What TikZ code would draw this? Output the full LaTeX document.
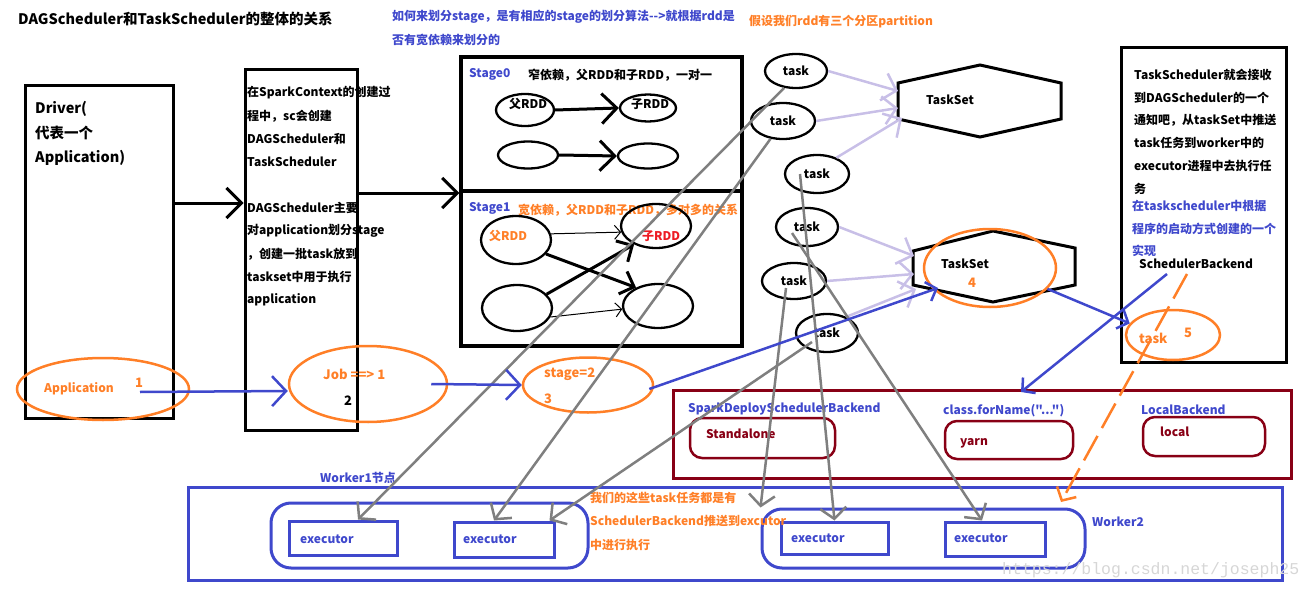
\documentclass[tikz,border=0pt]{standalone}
\usepackage{fontspec}
\setmainfont{Noto Sans CJK SC}
\newfontfamily\qfont{Noto Sans CJK SC}
\newfontfamily\wmfont{Liberation Mono}
\usetikzlibrary{shapes.geometric,arrows.meta}
\definecolor{porange}{HTML}{FF7F27}
\definecolor{pblue}{HTML}{3F48CC}
\definecolor{pred}{HTML}{880015}
\definecolor{plav}{HTML}{C8BFE7}
\definecolor{pgray}{HTML}{7F7F7F}
\definecolor{pbright}{HTML}{ED1C24}
\tikzset{
  T/.style={anchor=west, inner sep=0pt, font=\bfseries\fontsize{12}{14}\selectfont},
  TL/.style={anchor=west, inner sep=0pt, font=\bfseries\fontsize{14.5}{16}\selectfont},
  TC/.style={inner sep=0pt, font=\bfseries\fontsize{12}{14}\selectfont},
  box/.style={draw, line width=3pt, inner sep=0pt},
  ell/.style={draw, ellipse, line width=2.3pt, inner sep=0pt, font=\bfseries\fontsize{12}{14}\selectfont},
  oell/.style={draw=porange, ellipse, line width=2.5pt, inner sep=0pt},
  rbox/.style={draw=pred, line width=2.5pt, rounded corners=12pt, inner sep=0pt},
  bbox/.style={draw=pblue, line width=3pt, inner sep=0pt},
  karr/.style={line width=3pt, -{Straight Barb[length=15pt,width=30pt]}},
  barr/.style={draw=pblue, line width=2.5pt, -{Straight Barb[length=14pt,width=30pt]}},
  sbarr/.style={draw=pblue, line width=2.5pt, -{Straight Barb[length=9pt,width=20pt]}},
  larr/.style={draw=plav, line width=2.5pt, -{Straight Barb[length=13pt,width=28pt]}},
  garr/.style={draw=pgray, line width=2.5pt, -{Straight Barb[length=11pt,width=26pt]}},
}
\begin{document}
\begin{tikzpicture}[x=1pt,y=-1pt]
\useasboundingbox (0,0) rectangle (1312,591);

% ---------- header texts
\node[TL] (title) at (18,19) {DAGScheduler和TaskScheduler的整体的关系};
\node[T, text=pblue] (h1) at (392,17) {如何来划分stage，是有相应的stage的划分算法-{}->就根据rdd是};
\node[T, text=pblue] (h2) at (392,40) {否有宽依赖来划分的};
\node[T, text=porange] (h3) at (749,22) {假设我们rdd有三个分区partition};

% ---------- Driver
\node[box, minimum width=148pt, minimum height=332pt] (driver) at (99,252) {};
\node[TL] (d1) at (35,109) {Driver(};
\node[TL] (d2) at (35,133) {代表一个};
\node[TL] (d3) at (35,158) {Application)};
\node[oell, minimum width=172pt, minimum height=62pt] (app) at (103,389) {};
\node[T, text=porange] (apptext) at (44,389) {Application};
\node[T, text=porange, font=\bfseries\fontsize{13}{14}\selectfont] (appone) at (135,383) {1};

% ---------- SparkContext
\node[box, minimum width=112pt, minimum height=360pt] (sc) at (301,250) {};
\node[T] (s1) at (247,93) {在SparkContext的创建过};
\node[T] (s2) at (247,116) {程中，sc会创建};
\node[T] (s3) at (247,139) {DAGScheduler和};
\node[T] (s4) at (247,162) {TaskScheduler};
\node[T] (s5) at (247,208) {DAGScheduler主要};
\node[T] (s6) at (247,231) {对application划分stage};
\node[T] (s7) at (247,254) {，创建一批task放到};
\node[T] (s8) at (247,277) {taskset中用于执行};
\node[T] (s9) at (247,300) {application};

\node[oell, minimum width=158pt, minimum height=76pt] (job) at (368,384) {};
\node[T, text=porange, font=\bfseries\fontsize{13}{14}\selectfont] (jobtext) at (323,374) {Job ==> 1};
\node[T, font=\bfseries\fontsize{13}{14}\selectfont] (jobtwo) at (344,401) {2};

\node[oell, minimum width=130pt, minimum height=55pt] (stg) at (588,385) {};
\node[T, text=porange, font=\bfseries\fontsize{13}{14}\selectfont] (stgtext) at (544,374) {stage=2};
\node[T, text=porange, font=\bfseries\fontsize{13}{14}\selectfont] (stgthree) at (544,399) {3};

% ---------- Stage box
\node[draw, line width=3.5pt, inner sep=0pt, minimum width=281pt, minimum height=289pt] (stagebox) at (601.5,201.5) {};
\coordinate (dl) at (461,191);
\coordinate (dr) at (742,191);
\draw[line width=3.5pt] (dl) -- (dr);
\node[T, text=pblue] (st0) at (469,74) {Stage0};
\node[T] (st0t) at (528,75) {窄依赖，父RDD和子RDD，一对一};
\node[ell, minimum width=58pt, minimum height=32pt] (p0a) at (525,110) {};
\node[TC] (p0at) at (528,104) {父RDD};
\node[ell, minimum width=56pt, minimum height=27pt] (c0a) at (648,108) {};
\node[TC] (c0at) at (650,104) {子RDD};
\node[ell, minimum width=60pt, minimum height=27pt] (p0b) at (528,155) {};
\node[ell, minimum width=60pt, minimum height=25pt] (c0b) at (648,156) {};
\draw[karr] (p0a.east) -- (c0a.west);
\draw[karr] (p0b.east) -- (c0b.west);

\node[T, text=pblue] (st1) at (469,208) {Stage1};
\node[T, text=porange] (st1t) at (518,210) {宽依赖，父RDD和子RDD，多对多的关系};
\node[ell, minimum width=70pt, minimum height=48pt] (p1a) at (516,240) {};
\node[TC, text=porange] (p1at) at (508,236) {父RDD};
\node[ell, minimum width=70pt, minimum height=44pt] (c1a) at (656,226) {};
\node[TC, text=pbright] (c1at) at (661,236) {子RDD};
\node[ell, minimum width=70pt, minimum height=46pt] (p1b) at (517,308) {};
\node[ell, minimum width=70pt, minimum height=44pt] (c1b) at (658,306) {};
\draw[line width=1pt, -{Straight Barb[length=6pt,width=14pt]}] (p1a.10) -- (c1a.190);
\draw[line width=3pt, -{Straight Barb[length=12pt,width=24pt]}] (p1a.-25) -- (c1b.140);
\draw[line width=3pt, -{Straight Barb[length=12pt,width=24pt]}] (p1b.25) -- (c1a.-140);
\draw[line width=1pt, -{Straight Barb[length=6pt,width=14pt]}] (p1b.-15) -- (c1b.185);

% ---------- black arrows
\draw[karr] ([yshift=49pt]driver.east) -- ([yshift=47pt]sc.west);
\draw[karr] ([yshift=57pt]sc.east) -- ([yshift=8.5pt]stagebox.west);

% ---------- tasks
\node[ell, minimum width=62pt, minimum height=34pt] (t1) at (796,71) {task};
\node[ell, minimum width=64pt, minimum height=36pt] (t2) at (783,121) {task};
\node[ell, minimum width=64pt, minimum height=38pt] (t3) at (817,174) {task};
\node[ell, minimum width=62pt, minimum height=38pt] (t4) at (807,227) {task};
\node[ell, minimum width=64pt, minimum height=36pt] (t5) at (794,281) {task};
\node[ell, minimum width=62pt, minimum height=38pt] (t6) at (827,333) {task};

% ---------- TaskSets
\draw[line width=3pt, line join=miter] (898,83) -- (980,65) -- (1061,83) -- (1061,119) -- (980,137) -- (898,119) -- cycle;
\node[TC] (ts1) at (950,100) {TaskSet};
\draw[line width=3pt, line join=miter] (913,251) -- (993,231) -- (1075,248) -- (1075,285) -- (993,302) -- (913,285) -- cycle;
\node[TC] (ts2) at (965,264) {TaskSet};
\node[oell, minimum width=132pt, minimum height=78pt] (o4) at (990,268) {};
\node[TC, text=porange, font=\bfseries\fontsize{13}{14}\selectfont] (four) at (972,283) {4};

\coordinate (a1) at (898,91);
\coordinate (a2) at (898,108);
\coordinate (a3) at (902,118);
\coordinate (b1) at (914,256);
\coordinate (b2) at (914,274);
\coordinate (b3) at (916,289);
\draw[larr] (t1.east) -- (a1);
\draw[larr] (t2.east) -- (a2);
\draw[larr] (t3.40) -- (a3);
\draw[larr] (t4.east) -- (b1);
\draw[larr] (t5.east) -- (b2);
\draw[larr] (t6.40) -- (b3);

% ---------- TaskScheduler box
\node[box, minimum width=165pt, minimum height=314pt] (tsbox) at (1203.5,205) {};
\node[T] (r1) at (1134,75) {TaskScheduler就会接收};
\node[T] (r2) at (1134,98) {到DAGScheduler的一个};
\node[T] (r3) at (1134,120) {通知吧，从taskSet中推送};
\node[T] (r4) at (1134,143) {task任务到worker中的};
\node[T] (r5) at (1134,166) {executor进程中去执行任};
\node[T] (r6) at (1134,189) {务};
\node[T, text=pblue] (r7) at (1132,206) {在taskscheduler中根据};
\node[T, text=pblue] (r8) at (1132,229) {程序的启动方式创建的一个};
\node[T, text=pblue] (r9) at (1132,251) {实现};
\node[T] (sbe) at (1139,264) {SchedulerBackend};
\node[oell, minimum width=94pt, minimum height=50pt] (t5o) at (1173,335) {};
\node[T, text=porange, font=\bfseries\fontsize{13}{14}\selectfont] (t5ot) at (1139,338) {task};
\node[T, text=porange, font=\bfseries\fontsize{13}{14}\selectfont] (five) at (1184,333) {5};

% ---------- Backend box
\node[draw=pred, line width=3pt, inner sep=0pt, minimum width=618pt, minimum height=88pt] (backend) at (982,434) {};
\node[rbox, minimum width=145pt, minimum height=40pt] (sa) at (762.5,438) {};
\node[rbox, minimum width=128pt, minimum height=38pt] (yarn) at (1009,440) {};
\node[rbox, minimum width=122pt, minimum height=39pt] (local) at (1204,436.5) {};
\node[T, text=pblue] (l1) at (688,409) {SparkDeploySchedulerBackend};
\node[T, text=pblue, font=\qfont\bfseries\fontsize{12}{14}\selectfont] (l2) at (943,411) {class.forName("...")};
\node[T, text=pblue] (l3) at (1141,410) {LocalBackend};
\node[T, text=pred] (sat) at (706,434) {Standalone};
\node[T, text=pred] (yat) at (960,443) {yarn};
\node[T, text=pred] (lot) at (1160,432) {local};

% ---------- Workers
\node[bbox, minimum width=1094pt, minimum height=93pt] (worker) at (735,533.5) {};
\node[bbox, rounded corners=20pt, minimum width=317pt, minimum height=65pt] (w1r) at (429.5,535.5) {};
\node[bbox, minimum width=108pt, minimum height=34pt] (w1e1) at (343,538) {};
\node[bbox, minimum width=100pt, minimum height=35pt] (w1e2) at (504,539.5) {};
\node[bbox, rounded corners=20pt, minimum width=323pt, minimum height=59pt] (w2r) at (923.5,538.5) {};
\node[bbox, minimum width=107pt, minimum height=32pt] (w2e1) at (834.5,538) {};
\node[bbox, minimum width=100pt, minimum height=34pt] (w2e2) at (995,539) {};
\node[T, text=pblue] (e1) at (300,539) {executor};
\node[T, text=pblue] (e2) at (463,539) {executor};
\node[T, text=pblue] (e3) at (791,538) {executor};
\node[T, text=pblue] (e4) at (954,538) {executor};
\node[T, text=pblue] (wk1) at (320,478) {Worker1节点};
\node[T, text=pblue] (wk2) at (1092,522) {Worker2};
\node[T, text=porange] (o1) at (590,498) {我们的这些task任务都是有};
\node[T, text=porange] (o2) at (590,521) {SchedulerBackend推送到excutor};
\node[T, text=porange] (o3) at (590,545) {中进行执行};
\node[anchor=west, inner sep=0pt, text=black!16, font=\wmfont\fontsize{16.5}{18}\selectfont] (wm) at (1002,570) {https://blog.csdn.net/joseph25};

% ---------- gray task -> executor lines
\draw[garr] (t1.-125) -- ([xshift=15pt]w1e1.north);
\draw[garr] (t2.-125) -- ([xshift=-10pt]w1e2.north);
\draw[garr] ([xshift=-15pt,yshift=-9pt]t6.center) -- ([xshift=-6pt]w1e2.north east);
\draw[garr] ([xshift=-17pt]t3.center) -- (w2e1.north);
\draw[garr] ([xshift=-15pt,yshift=-6pt]t4.center) -- ([xshift=-13pt]w2e2.north);
\draw[garr] ([xshift=-8pt,yshift=-7pt]t5.center) -- (w2r.north west);

% ---------- blue flow arrows
\coordinate (as) at (140,392);
\draw[barr] (as) -- ([yshift=-7pt]job.west);
\draw[barr] ([xshift=-17pt]job.east) -- (stg.west);
\coordinate (ts2in) at (938,288);
\draw[sbarr] ([xshift=-5pt,yshift=-4pt]stg.east) -- (ts2in);
\draw[sbarr] (o4.-20) -- (t5o.165);
\coordinate (sbs) at (1167,274);
\coordinate (bt) at (1021,392);
\draw[sbarr] (sbs) -- (bt);
\coordinate (sbo) at (1187,274);
\coordinate (w2t) at (1061,502);
\draw[draw=porange, line width=2.5pt, dash pattern=on 28pt off 9pt, -{Straight Barb[length=10pt,width=22pt]}] (sbo) -- (w2t);
\end{tikzpicture}
\end{document}
